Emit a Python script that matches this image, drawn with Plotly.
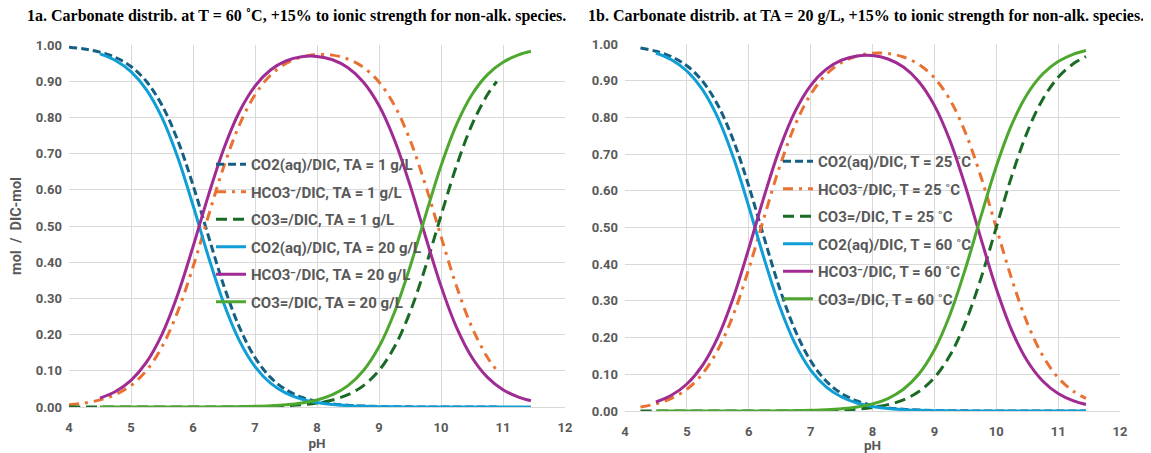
import plotly.graph_objects as go

# ---------------- data ----------------
# T = 60 C, TA = 20 g/L (solid lines, both panels)
ph_20 = [4.5, 4.75, 5.0, 5.25, 5.5, 5.75, 6.0, 6.25, 6.5, 6.75, 7.0, 7.25, 7.5, 7.75, 8.0,
         8.25, 8.5, 8.75, 9.0, 9.25, 9.5, 9.75, 10.0, 10.25, 10.5, 10.75, 11.0, 11.25, 11.45]
co2_20 = [0.9755, 0.9572, 0.9264, 0.8762, 0.7992, 0.6912, 0.5573, 0.4144, 0.2846, 0.1828,
          0.1116, 0.0659, 0.0381, 0.0217, 0.0122, 0.0068, 0.0037, 0.0020, 0.0010, 0.0005,
          0.0002, 0.0001, 0, 0, 0, 0, 0, 0, 0]
hco3_20 = [0.0245, 0.0428, 0.0736, 0.1238, 0.2008, 0.3088, 0.4426, 0.5854, 0.7149, 0.8163,
           0.8866, 0.9308, 0.9559, 0.9675, 0.9685, 0.9592, 0.9371, 0.8973, 0.8328, 0.7377,
           0.6129, 0.4711, 0.3339, 0.2199, 0.1368, 0.0818, 0.0477, 0.0274, 0.0175]
co3_20 = [0, 0, 0, 0, 0, 0, 0.0001, 0.0002, 0.0005, 0.0009,
          0.0018, 0.0033, 0.0060, 0.0109, 0.0193, 0.0340, 0.0591, 0.1007, 0.1662, 0.2618,
          0.3869, 0.5288, 0.6661, 0.7801, 0.8632, 0.9182, 0.9523, 0.9726, 0.9825]

# T = 60 C, TA = 1 g/L (dashed lines, panel 1a)
ph_1 = [4.0, 4.25, 4.5, 4.75, 5.0, 5.25, 5.5, 5.75, 6.0, 6.25, 6.5, 6.75, 7.0, 7.25, 7.5,
        7.75, 8.0, 8.25, 8.5, 8.75, 9.0, 9.25, 9.5, 9.75, 10.0, 10.25, 10.5, 10.75, 10.9]
co2_1 = [0.9937, 0.9889, 0.9804, 0.9657, 0.9406, 0.8991, 0.8337, 0.7381, 0.6131, 0.4712,
         0.3338, 0.2198, 0.1367, 0.0817, 0.0476, 0.0272, 0.0154, 0.0087, 0.0048, 0.0026,
         0.0014, 0.0007, 0.0004, 0.0002, 0.0001, 0, 0, 0, 0]
hco3_1 = [0.0063, 0.0111, 0.0196, 0.0343, 0.0594, 0.1009, 0.1663, 0.2619, 0.3868, 0.5287,
          0.6660, 0.7797, 0.8624, 0.9165, 0.9491, 0.9667, 0.9736, 0.9720, 0.9611, 0.9382,
          0.8978, 0.8330, 0.7378, 0.6129, 0.4712, 0.3339, 0.2199, 0.1368, 0.1009]
co3_1 = [0, 0, 0, 0, 0, 0, 0, 0, 0, 0.0001,
         0.0002, 0.0005, 0.0010, 0.0018, 0.0034, 0.0061, 0.0109, 0.0194, 0.0341, 0.0592,
         0.1007, 0.1662, 0.2618, 0.3869, 0.5287, 0.6661, 0.7801, 0.8632, 0.8991]

# T = 25 C, TA = 20 g/L (dashed lines, panel 1b)
ph_25 = [4.25, 4.5, 4.75, 5.0, 5.25, 5.5, 5.75, 6.0, 6.25, 6.5, 6.75, 7.0, 7.25, 7.5, 7.75,
         8.0, 8.25, 8.5, 8.75, 9.0, 9.25, 9.5, 9.75, 10.0, 10.25, 10.5, 10.75, 11.0, 11.25, 11.45]
co2_25 = [0.9889, 0.9804, 0.9657, 0.9406, 0.8991, 0.8337, 0.7381, 0.6131, 0.4712, 0.3338,
          0.2198, 0.1367, 0.0817, 0.0476, 0.0273, 0.0154, 0.0087, 0.0048, 0.0027, 0.0014,
          0.0008, 0.0004, 0.0002, 0.0001, 0, 0, 0, 0, 0, 0]
hco3_25 = [0.0111, 0.0196, 0.0343, 0.0594, 0.1009, 0.1663, 0.2619, 0.3869, 0.5287, 0.6660,
           0.7798, 0.8625, 0.9167, 0.9494, 0.9673, 0.9748, 0.9740, 0.9647, 0.9442, 0.9078,
           0.8484, 0.7593, 0.6398, 0.4999, 0.3599, 0.2403, 0.1510, 0.0909, 0.0532, 0.0343]
co3_25 = [0, 0, 0, 0, 0, 0, 0, 0, 0.0001, 0.0002,
          0.0004, 0.0009, 0.0016, 0.0030, 0.0054, 0.0097, 0.0173, 0.0305, 0.0531, 0.0908,
          0.1509, 0.2403, 0.3600, 0.5000, 0.6401, 0.7597, 0.8490, 0.9091, 0.9468, 0.9657]

x_ticks = [4, 5, 6, 7, 8, 9, 10, 11, 12]
title_a = "1a. Carbonate distrib. at T = 60 ˚C, +15% to ionic strength for non-alk. species."
title_b = "1b. Carbonate distrib. at TA = 20 g/L, +15% to ionic strength for non-alk. species."
names_a = ["CO2(aq)/DIC, TA = 1 g/L", "HCO3⁻/DIC, TA = 1 g/L", "CO3=/DIC, TA = 1 g/L",
           "CO2(aq)/DIC, TA = 20 g/L", "HCO3⁻/DIC, TA = 20 g/L", "CO3=/DIC, TA = 20 g/L"]
names_b = ["CO2(aq)/DIC, T = 25 ˚C", "HCO3⁻/DIC, T = 25 ˚C", "CO3=/DIC, T = 25 ˚C",
           "CO2(aq)/DIC, T = 60 ˚C", "HCO3⁻/DIC, T = 60 ˚C", "CO3=/DIC, T = 60 ˚C"]

# ---------------- styles ----------------
C_CO2_D = "#156082"
C_HCO3_D = "#E97132"
C_CO3_D = "#196B24"
C_CO2 = "#0F9ED5"
C_HCO3 = "#A02B93"
C_CO3 = "#4EA72E"
DASH_CO2 = "8px,4px"
DASH_HCO3 = "10px,6px,3px,6px"
DASH_CO3 = "11px,6px"
GRAY = "#595959"
GRID = "#D9D9D9"
W = 3

fig = go.Figure()

def add(x, y, name, color, dash, xa, ya, legend, grp):
    fig.add_trace(go.Scatter(
        x=x, y=y, name=name, mode="lines", line_shape="spline",
        line=dict(color=color, width=W, dash=dash),
        xaxis=xa, yaxis=ya, legend=legend, legendgroup=grp))

series_a = [(ph_1, co2_1, C_CO2_D, DASH_CO2), (ph_1, hco3_1, C_HCO3_D, DASH_HCO3),
            (ph_1, co3_1, C_CO3_D, DASH_CO3), (ph_20, co2_20, C_CO2, "solid"),
            (ph_20, hco3_20, C_HCO3, "solid"), (ph_20, co3_20, C_CO3, "solid")]
series_b = [(ph_25, co2_25, C_CO2_D, DASH_CO2), (ph_25, hco3_25, C_HCO3_D, DASH_HCO3),
            (ph_25, co3_25, C_CO3_D, DASH_CO3), (ph_20, co2_20, C_CO2, "solid"),
            (ph_20, hco3_20, C_HCO3, "solid"), (ph_20, co3_20, C_CO3, "solid")]

for i, (x, y, c, d) in enumerate(series_a):
    add(x, y, names_a[i], c, d, "x", "y", "legend", "a%d" % i)
for i, (x, y, c, d) in enumerate(series_b):
    add(x, y, names_b[i], c, d, "x2", "y2", "legend2", "b%d" % i)

# page body has an 8px margin: lay the figure out in a frame shifted by 8px
OFF = 8
WD = 1151 - OFF
H = 453 - OFF


def px(x):
    return (x - OFF) / WD


def py(y):
    return (H - (y - OFF)) / H


tick_font = dict(family="Roboto", size=13, color=GRAY, weight="bold")
axis_title_font = dict(family="Roboto", size=14.5, color=GRAY, weight="bold")
ph_title_font = dict(family="Roboto", size=13.5, color=GRAY, weight="bold")
legend_font = dict(family="Roboto", size=15, color=GRAY, weight="bold")
title_font = dict(family="Liberation Serif", size=16, color="black", weight="bold")

xcommon = dict(range=[4, 12], tickvals=x_ticks, showgrid=True, gridcolor=GRID, gridwidth=1,
               zeroline=False, showline=True, linecolor=GRID, linewidth=1, ticks="",
               tickfont=tick_font, ticklabelstandoff=8, automargin=False,
               title=dict(text="pH", font=ph_title_font, standoff=4))
ycommon = dict(range=[0, 1], dtick=0.1, tickformat=".2f", showgrid=True, gridcolor=GRID,
               gridwidth=1, zeroline=False, showline=False, ticks="", tickfont=tick_font,
               ticklabelstandoff=6, automargin=False)

fig.update_layout(
    width=WD, height=H, margin=dict(l=0, r=0, t=0, b=0, autoexpand=False),
    paper_bgcolor="white", plot_bgcolor="white", showlegend=True,
    xaxis=dict(domain=[px(69), px(565)], anchor="y", **xcommon),
    yaxis=dict(domain=[py(407), py(45)], anchor="x",
               title=dict(text="mol  /  DIC-mol", font=axis_title_font, standoff=12),
               **ycommon),
    xaxis2=dict(domain=[px(625), px(1120)], anchor="y2", **xcommon),
    yaxis2=dict(domain=[py(411), py(44)], anchor="x2", **ycommon),
    legend=dict(x=px(211), y=py(148), xanchor="left", yanchor="top",
                bgcolor="rgba(0,0,0,0)", traceorder="grouped", tracegroupgap=5,
                font=legend_font),
    legend2=dict(x=px(778), y=py(145), xanchor="left", yanchor="top",
                 bgcolor="rgba(0,0,0,0)", traceorder="grouped", tracegroupgap=5,
                 font=legend_font),
    annotations=[
        dict(text=title_a, x=px(296), y=py(16), xref="paper", yref="paper",
             showarrow=False, xanchor="center", yanchor="middle", font=title_font),
        dict(text=title_b, x=px(866), y=py(16), xref="paper", yref="paper",
             showarrow=False, xanchor="center", yanchor="middle", font=title_font),
    ],
)

fig.write_html("out.html")
